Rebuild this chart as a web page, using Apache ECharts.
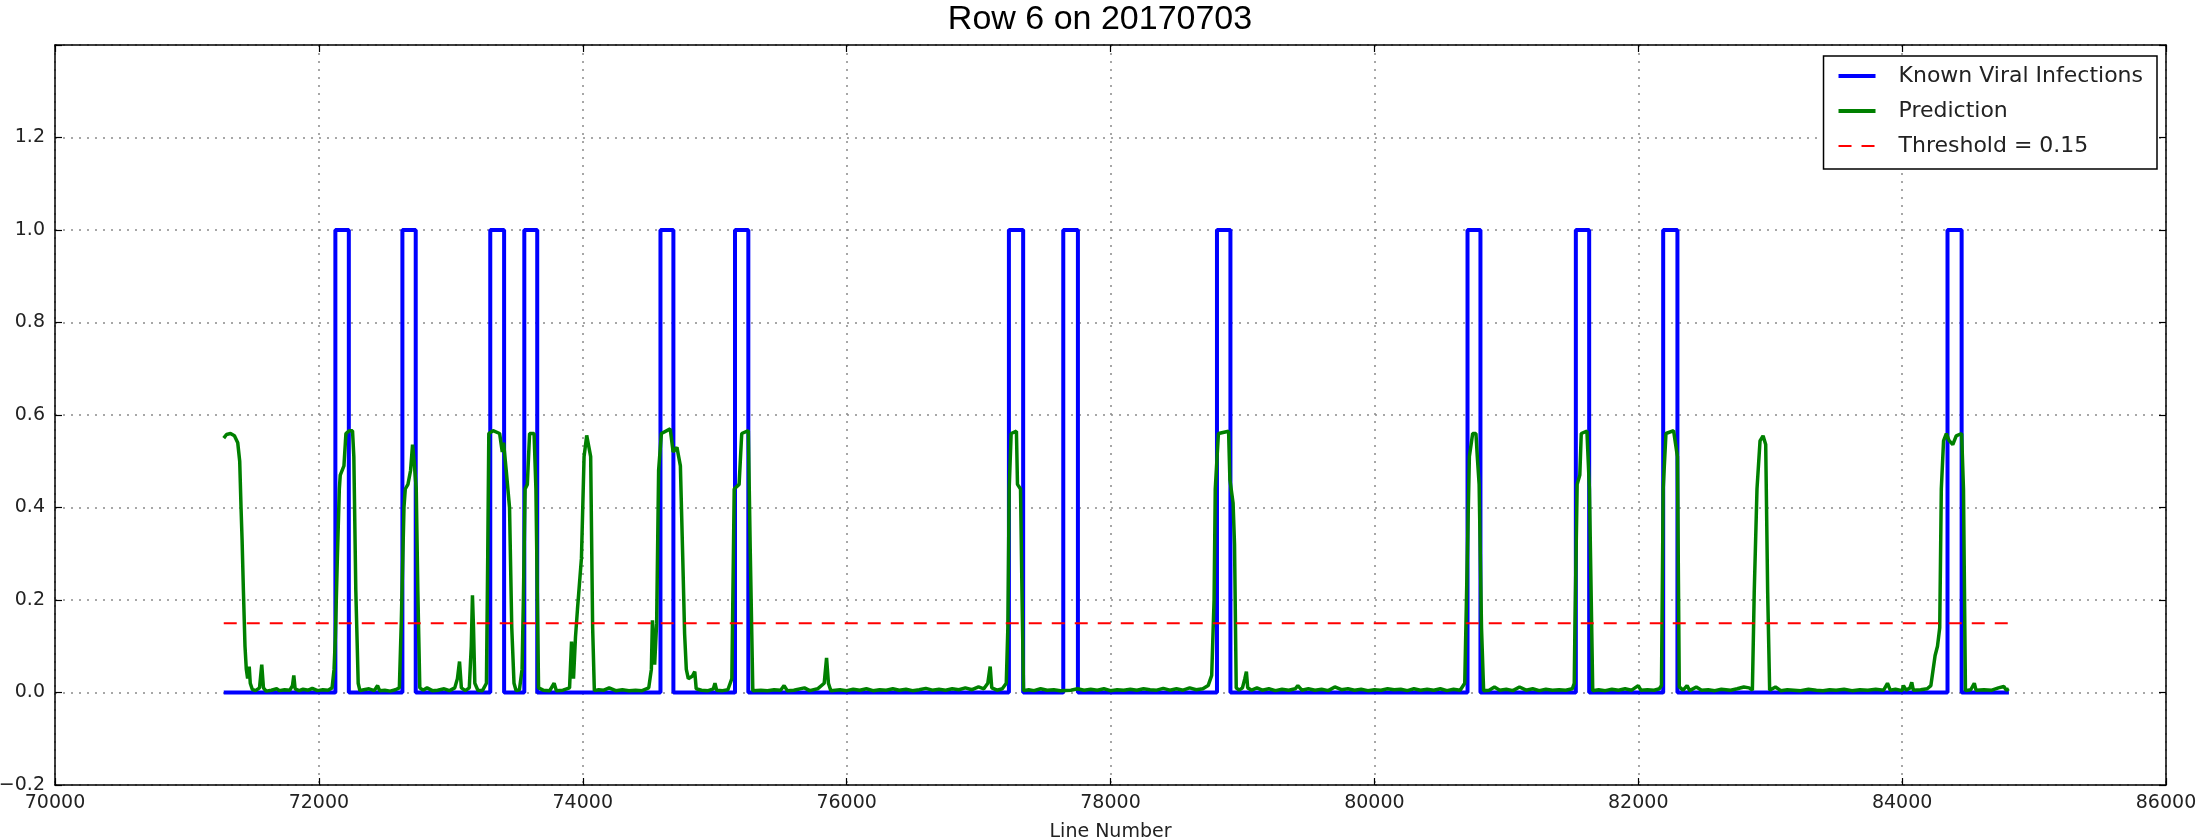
<!DOCTYPE html>
<html>
<head>
<meta charset="utf-8">
<title>Row 6 on 20170703</title>
<script src="https://cdn.jsdelivr.net/npm/echarts@6/dist/echarts.min.js"></script>
<style>
  html, body { margin: 0; padding: 0; background: #fff; }
  #chart { width: 2200px; height: 840px; }
</style>
</head>
<body>
<div id="chart"></div>
<script>
// x range of the recording
const lineStart = 71279;
const lineEnd = 84809;
// known infections: start / end line of each pulse (value 1.0)
const pulseStart = [72125, 72633, 73299, 73557, 74589, 75154, 77230, 77642, 78807, 80706, 81527, 82189, 84344];
const pulseEnd   = [72227, 72734, 73404, 73655, 74687, 75255, 77338, 77753, 78909, 80804, 81628, 82297, 84451];
const thresholdValue = 0.15;

// prediction curve [line number, value]
const prediction = [
  [71279,0.55],[71300,0.558],[71330,0.56],[71360,0.555],[71385,0.54],[71400,0.5],[71410,0.4],[71418,0.33],[71428,0.22],[71440,0.1],
  [71450,0.05],[71460,0.03],[71472,0.056],[71480,0.02],[71495,0.007],[71520,0.004],[71550,0.01],[71567,0.06],[71580,0.01],[71600,0.003],
  [71640,0.005],[71680,0.008],[71700,0.004],[71740,0.006],[71780,0.005],[71800,0.015],[71810,0.037],[71820,0.008],[71850,0.004],[71880,0.007],
  [71920,0.005],[71950,0.009],[71990,0.004],[72030,0.006],[72070,0.005],[72100,0.01],[72115,0.05],
  [72125,0.12],[72140,0.29],[72155,0.44],[72162,0.47],[72175,0.47],[72190,0.49],[72205,0.56],[72230,0.566],[72255,0.566],[72265,0.51],
  [72280,0.22],[72298,0.02],[72311,0.004],[72340,0.006],[72380,0.008],[72420,0.004],[72445,0.015],[72460,0.004],[72500,0.005],[72540,0.003],
  [72580,0.006],[72610,0.01],
  [72625,0.156],[72645,0.4],[72655,0.44],[72675,0.45],[72695,0.48],[72710,0.536],[72722,0.5],[72738,0.44],[72750,0.22],[72765,0.01],
  [72790,0.005],[72820,0.01],[72860,0.004],[72900,0.005],[72950,0.008],[72990,0.004],[73030,0.01],[73050,0.03],[73066,0.067],[73080,0.01],
  [73110,0.004],[73140,0.01],[73155,0.1],[73164,0.21],[73172,0.14],[73182,0.02],[73205,0.005],[73240,0.004],[73270,0.02],
  [73280,0.3],[73288,0.56],[73320,0.566],[73370,0.56],[73390,0.52],[73400,0.54],[73420,0.48],[73445,0.4],[73462,0.14],[73479,0.02],
  [73495,0.004],[73520,0.006],[73540,0.05],[73550,0.2],
  [73563,0.44],[73580,0.45],[73597,0.56],[73631,0.56],[73645,0.44],[73665,0.01],[73700,0.005],[73750,0.004],[73783,0.02],[73800,0.004],
  [73850,0.005],[73900,0.01],[73915,0.11],[73930,0.03],[73945,0.12],[73960,0.18],[73990,0.29],[74010,0.51],[74030,0.556],[74045,0.556],
  [74060,0.51],[74075,0.14],[74088,0.004],[74120,0.006],[74160,0.005],[74200,0.01],[74250,0.004],[74300,0.006],[74350,0.004],[74400,0.005],
  [74450,0.004],[74500,0.01],
  [74520,0.05],[74528,0.156],[74545,0.06],[74560,0.15],[74575,0.48],[74596,0.56],[74663,0.57],[74685,0.52],[74714,0.53],[74740,0.49],
  [74758,0.29],[74772,0.127],[74785,0.05],[74800,0.03],[74830,0.035],[74849,0.045],[74860,0.008],[74900,0.005],[74950,0.004],[74990,0.008],
  [75002,0.02],[75015,0.005],[75060,0.004],[75100,0.006],[75130,0.03],
  [75148,0.44],[75185,0.45],[75205,0.56],[75255,0.566],[75270,0.3],[75289,0.004],[75350,0.005],[75400,0.004],[75450,0.006],[75500,0.005],
  [75526,0.015],[75550,0.004],[75600,0.005],[75680,0.01],[75720,0.004],[75780,0.008],[75830,0.02],[75848,0.075],[75862,0.02],[75880,0.004],
  [75950,0.006],[76000,0.004],[76050,0.007],[76100,0.005],[76150,0.008],[76200,0.004],[76250,0.006],[76300,0.005],[76350,0.008],[76400,0.005],
  [76450,0.007],[76500,0.004],[76550,0.006],[76600,0.009],[76650,0.005],[76700,0.007],[76750,0.005],[76800,0.008],[76850,0.006],[76900,0.01],
  [76950,0.006],[77000,0.012],[77040,0.008],[77070,0.02],[77088,0.056],[77100,0.01],[77140,0.005],[77180,0.008],[77210,0.02],
  [77222,0.14],[77232,0.44],[77247,0.56],[77287,0.565],[77295,0.45],[77318,0.44],[77330,0.2],[77341,0.004],[77380,0.006],[77420,0.004],
  [77470,0.008],[77520,0.005],[77570,0.006],[77620,0.004],[77700,0.005],[77750,0.008],[77800,0.005],[77850,0.007],[77900,0.005],[77950,0.008],
  [78000,0.004],[78050,0.006],[78100,0.005],[78150,0.007],[78200,0.005],[78250,0.008],[78300,0.006],[78350,0.005],[78400,0.009],[78450,0.005],
  [78500,0.008],[78550,0.005],[78600,0.01],[78650,0.006],[78700,0.008],[78740,0.015],[78767,0.037],
  [78785,0.2],[78794,0.44],[78818,0.56],[78895,0.565],[78905,0.46],[78929,0.41],[78940,0.32],[78953,0.01],[78975,0.005],[79000,0.01],
  [79018,0.03],[79030,0.045],[79040,0.01],[79070,0.005],[79110,0.01],[79150,0.005],[79200,0.008],[79250,0.004],[79300,0.007],[79350,0.005],
  [79400,0.008],[79420,0.015],[79450,0.005],[79500,0.008],[79550,0.005],[79600,0.007],[79650,0.004],[79700,0.012],[79750,0.006],[79800,0.008],
  [79850,0.005],[79900,0.007],[79950,0.004],[80000,0.006],[80050,0.005],[80100,0.008],[80150,0.006],[80200,0.007],[80250,0.004],[80300,0.008],
  [80350,0.005],[80400,0.007],[80450,0.005],[80500,0.008],[80550,0.004],[80600,0.007],[80650,0.005],[80685,0.02],
  [80699,0.216],[80720,0.51],[80745,0.56],[80770,0.56],[80780,0.51],[80794,0.45],[80812,0.14],[80828,0.004],[80870,0.005],[80910,0.012],
  [80950,0.005],[81000,0.007],[81050,0.004],[81100,0.012],[81150,0.005],[81200,0.008],[81250,0.004],[81300,0.007],[81350,0.005],[81400,0.006],
  [81450,0.005],[81500,0.008],[81515,0.02],
  [81520,0.14],[81537,0.45],[81557,0.47],[81568,0.56],[81611,0.565],[81630,0.44],[81655,0.004],[81700,0.006],[81750,0.004],[81800,0.007],
  [81850,0.005],[81900,0.008],[81950,0.005],[82000,0.015],[82020,0.005],[82070,0.006],[82120,0.005],[82160,0.008],[82176,0.015],
  [82189,0.44],[82210,0.56],[82268,0.566],[82297,0.51],[82311,0.012],[82340,0.005],[82370,0.015],[82390,0.004],[82440,0.012],[82480,0.005],
  [82530,0.006],[82580,0.004],[82630,0.007],[82700,0.005],[82750,0.008],[82800,0.012],[82840,0.01],[82865,0.005],
  [82879,0.216],[82900,0.44],[82923,0.544],[82946,0.555],[82966,0.536],[82981,0.216],[82996,0.005],[83040,0.012],[83080,0.004],[83130,0.006],
  [83180,0.005],[83230,0.004],[83290,0.007],[83350,0.005],[83400,0.004],[83450,0.006],[83500,0.005],[83560,0.007],[83620,0.004],[83680,0.006],
  [83740,0.005],[83800,0.007],[83860,0.005],[83889,0.02],[83910,0.005],[83950,0.007],[84000,0.004],[84010,0.015],[84030,0.005],[84060,0.01],
  [84073,0.022],[84085,0.005],[84140,0.006],[84190,0.008],[84218,0.015],
  [84250,0.08],[84268,0.10],[84285,0.14],[84297,0.44],[84314,0.544],[84335,0.56],[84355,0.545],[84384,0.536],[84410,0.555],[84451,0.56],
  [84465,0.44],[84480,0.004],[84520,0.006],[84547,0.02],[84560,0.005],[84620,0.006],[84680,0.005],[84730,0.01],[84771,0.013],[84790,0.005],
  [84809,0.008]
];

function buildKnown(){
  const pts = [[lineStart, 0]];
  pulseStart.forEach((s, i) => {
    pts.push([s, 0], [s, 1], [pulseEnd[i], 1], [pulseEnd[i], 0]);
  });
  pts.push([lineEnd, 0]);
  return pts;
}

function fmtY(v){
  if (Math.abs(v - 1.4) < 1e-6) return '';
  return v.toFixed(1).replace('-', '\u2212');
}

function creatChart(){
  const chart = echarts.init(document.getElementById('chart'));
  const font = 'DejaVu Sans';
  const border = { show: true, onZero: false, lineStyle: { color: '#000', width: 1.5 } };
  const tick = { show: true, inside: true, length: 7, lineStyle: { color: '#000', width: 1.2 } };
  const grid_line = { show: true, lineStyle: { color: '#8a8a8a', width: 1.5, type: [2, 6] } };
  const option = {
    animation: false,
    backgroundColor: '#fff',
    title: {
      text: 'Row 6 on 20170703',
      left: 'center',
      top: -2,
      textStyle: { fontFamily: 'Liberation Sans', fontSize: 34, fontWeight: 'normal', color: '#000' }
    },
    grid: { left: 55, right: 34, top: 45, bottom: 55, containLabel: false, outerBoundsMode: 'none' },
    legend: {
      orient: 'vertical',
      right: 43,
      top: 56,
      itemWidth: 37,
      itemHeight: 14,
      itemGap: 13,
      padding: [9, 14, 12, 13],
      backgroundColor: '#fff',
      borderColor: '#000',
      borderWidth: 1.5,
      borderRadius: 0,
      itemStyle: { opacity: 0 },
      textStyle: { fontFamily: font, fontSize: 22, color: '#222', padding: [0, 0, 0, 18] },
      data: [
        { name: 'Known Viral Infections', lineStyle: { width: 4 } },
        { name: 'Prediction', lineStyle: { width: 4 } },
        { name: 'Threshold = 0.15', lineStyle: { width: 2 } }
      ]
    },
    xAxis: [
      {
        type: 'value', min: 70000, max: 86000, interval: 2000,
        name: 'Line Number', nameLocation: 'middle', nameGap: 38,
        nameTextStyle: { fontFamily: font, fontSize: 19, color: '#222' },
        axisLine: border, axisTick: tick,
        axisLabel: { fontFamily: font, fontSize: 19, color: '#222', margin: 9, formatter: v => String(v) },
        splitLine: grid_line
      },
      {
        type: 'value', position: 'top', min: 70000, max: 86000, interval: 2000,
        axisLine: border, axisTick: tick, axisLabel: { show: false }, splitLine: { show: false }
      }
    ],
    yAxis: [
      {
        type: 'value', min: -0.2, max: 1.4, interval: 0.2,
        axisLine: border, axisTick: tick,
        axisLabel: { fontFamily: font, fontSize: 19, color: '#222', margin: 10, formatter: fmtY },
        splitLine: grid_line
      },
      {
        type: 'value', position: 'right', min: -0.2, max: 1.4, interval: 0.2,
        axisLine: border, axisTick: tick, axisLabel: { show: false }, splitLine: { show: false }
      }
    ],
    series: [
      {
        name: 'Known Viral Infections', type: 'line', data: buildKnown(),
        showSymbol: false, symbol: 'none', z: 2,
        lineStyle: { color: '#0000ff', width: 4 }, itemStyle: { color: '#0000ff' }
      },
      {
        name: 'Prediction', type: 'line', data: prediction,
        showSymbol: false, symbol: 'none', z: 3,
        lineStyle: { color: '#008000', width: 3.5 }, itemStyle: { color: '#008000' }
      },
      {
        name: 'Threshold = 0.15', type: 'line',
        data: [[lineStart, thresholdValue], [lineEnd, thresholdValue]],
        showSymbol: false, symbol: 'none', z: 4,
        lineStyle: { color: '#ff0000', width: 2, type: [13, 10] }, itemStyle: { color: '#ff0000' }
      }
    ]
  };
  chart.setOption(option);
}
window.onload = function(){
  creatChart();
};
</script>
</body>
</html>
